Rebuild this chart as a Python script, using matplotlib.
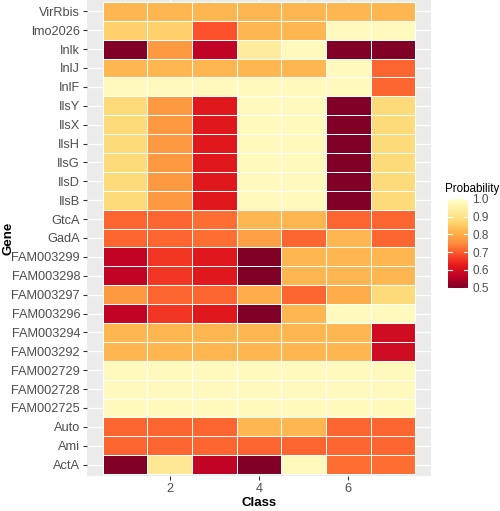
import matplotlib
matplotlib.use('agg')
import matplotlib.pyplot as plt
import numpy as np

plt.rcParams['font.family'] = ['Liberation Sans', 'DejaVu Sans']

# genes listed bottom -> top (as on the y axis)
genes = ["ActA", "Ami", "Auto", "FAM002725", "FAM002728", "FAM002729",
         "FAM003292", "FAM003294", "FAM003296", "FAM003297", "FAM003298",
         "FAM003299", "GadA", "GtcA", "IlsB", "IlsD", "IlsG", "IlsH",
         "IlsX", "IlsY", "InlF", "InlJ", "Inlk", "lmo2026", "VirRbis"]
classes = [1, 2, 3, 4, 5, 6, 7]

# probability per gene (rows same order as genes), columns = class 1..7
prob = [
    [0.50, 0.92, 0.57, 0.50, 0.98, 0.72, 0.72],  # ActA
    [0.71, 0.71, 0.71, 0.71, 0.71, 0.71, 0.71],  # Ami
    [0.71, 0.71, 0.71, 0.82, 0.82, 0.71, 0.71],  # Auto
    [0.98, 0.98, 0.98, 0.98, 0.98, 0.98, 0.98],  # FAM002725
    [0.98, 0.98, 0.98, 0.98, 0.98, 0.98, 0.98],  # FAM002728
    [0.98, 0.98, 0.98, 0.98, 0.98, 0.98, 0.98],  # FAM002729
    [0.82, 0.82, 0.82, 0.82, 0.82, 0.82, 0.59],  # FAM003292
    [0.82, 0.82, 0.82, 0.82, 0.82, 0.82, 0.59],  # FAM003294
    [0.57, 0.66, 0.62, 0.50, 0.82, 0.98, 0.98],  # FAM003296
    [0.77, 0.71, 0.71, 0.80, 0.71, 0.80, 0.88],  # FAM003297
    [0.57, 0.66, 0.62, 0.50, 0.82, 0.82, 0.82],  # FAM003298
    [0.57, 0.66, 0.62, 0.50, 0.82, 0.82, 0.82],  # FAM003299
    [0.71, 0.71, 0.72, 0.78, 0.71, 0.82, 0.71],  # GadA
    [0.71, 0.71, 0.72, 0.82, 0.82, 0.71, 0.71],  # GtcA
    [0.88, 0.77, 0.62, 0.98, 0.98, 0.50, 0.88],  # IlsB
    [0.88, 0.77, 0.62, 0.98, 0.98, 0.50, 0.88],  # IlsD
    [0.88, 0.77, 0.62, 0.98, 0.98, 0.50, 0.88],  # IlsG
    [0.88, 0.77, 0.62, 0.98, 0.98, 0.50, 0.88],  # IlsH
    [0.88, 0.77, 0.62, 0.98, 0.98, 0.50, 0.88],  # IlsX
    [0.88, 0.77, 0.62, 0.98, 0.98, 0.50, 0.88],  # IlsY
    [0.98, 0.98, 0.98, 0.98, 0.98, 0.98, 0.71],  # InlF
    [0.82, 0.82, 0.82, 0.82, 0.82, 0.98, 0.71],  # InlJ
    [0.50, 0.77, 0.57, 0.93, 0.98, 0.50, 0.50],  # Inlk
    [0.86, 0.86, 0.69, 0.82, 0.82, 0.98, 0.98],  # lmo2026
    [0.82, 0.82, 0.82, 0.82, 0.82, 0.82, 0.82],  # VirRbis
]
cbar_ticks = [0.5, 0.6, 0.7, 0.8, 0.9, 1.0]

data = np.array(prob)
ny = len(genes)
xs = np.array(classes)

fig = plt.figure(figsize=(5.0, 5.11), dpi=100)
ax = fig.add_axes([0.174, 0.0685, 0.688, 0.9315])
ax.set_facecolor('#EBEBEB')

xedges = np.append(xs - 0.5, xs[-1] + 0.5)
yedges = np.arange(ny + 1) + 0.5
mesh = ax.pcolormesh(xedges, yedges, data, cmap='YlOrRd_r', vmin=0.5, vmax=1.0,
                     edgecolors='white', linewidth=0.6, zorder=2)

xr = xs[-1] - xs[0] + 1
ax.set_xlim(0.5 - 0.05 * xr, 7.5 + 0.05 * xr)
ax.set_ylim(0.4, ny + 0.6)
ax.set_xticks([2, 4, 6])
ax.set_xticks([1, 3, 5, 7], minor=True)
ax.set_yticks(np.arange(1, ny + 1))
ax.set_yticklabels(genes)
ax.grid(True, which='major', color='white', linewidth=1.0, zorder=0)
ax.grid(True, which='minor', axis='x', color='white', linewidth=0.5, zorder=0)
ax.set_axisbelow(True)
for s in ax.spines.values():
    s.set_visible(False)
ax.tick_params(which='major', length=3, width=0.8, color='#333333',
               labelcolor='#4D4D4D', labelsize=9.2, pad=2)
ax.tick_params(which='minor', length=0)
ax.set_xlabel('Class', fontsize=9.5, fontweight='bold')
ax.set_ylabel('Gene', fontsize=9.5, fontweight='bold')
ax.xaxis.set_label_coords(0.5, -0.044)
ax.yaxis.set_label_coords(-0.21, 0.5)

cax = fig.add_axes([0.896, 0.437, 0.04, 0.174])
cb = fig.colorbar(mesh, cax=cax, ticks=cbar_ticks)
cb.outline.set_visible(False)
cb.ax.tick_params(length=0, labelsize=8.5, labelcolor='#4D4D4D', pad=3)
cb.ax.set_yticklabels(['%.1f' % t for t in cbar_ticks])
for t in cbar_ticks:
    cax.plot([0, 0.2], [t, t], color='white', lw=0.8)
    cax.plot([0.8, 1.0], [t, t], color='white', lw=0.8)
cax.set_xlim(0, 1)
cax.set_ylim(0.5, 1.0)
fig.text(0.889, 0.618, 'Probability', fontsize=8.4, ha='left', va='bottom')

fig.savefig('out.png', dpi=100)
